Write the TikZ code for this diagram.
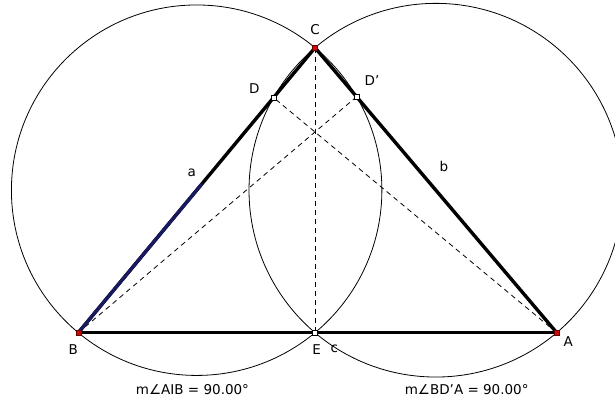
\documentclass[tikz,border=0pt]{standalone}
\usepackage{fontspec}
\setmainfont{DejaVu Sans}
\usetikzlibrary{calc}
\definecolor{navyline}{RGB}{25,25,95}
\definecolor{ptred}{RGB}{200,10,10}
\newcommand{\prm}{\char39}

\begin{document}
\begin{tikzpicture}[x=1pt, y=-1pt,
    side/.style={line width=3.4pt, line cap=round},
    aux/.style={line width=0.8pt, dash pattern=on 5pt off 4pt},
    circ/.style={line width=0.8pt},
    redpt/.style={draw=black!60!red, fill=ptred, minimum size=5pt, inner sep=0pt, line width=0.5pt},
    openpt/.style={draw=black, fill=white, minimum size=5pt, inner sep=0pt, line width=0.6pt},
    lbl/.style={font=\fontsize{13.5}{15}\selectfont, inner sep=0pt}
  ]
    \useasboundingbox (0,0) rectangle (615,411);
    \clip (0,0) rectangle (615,411);
    \coordinate (B) at (78.3,332.7);
    \coordinate (A) at (556.7,332.7);
    \coordinate (C) at (315,47.7);
    \coordinate (E) at (315,332.7);
    \coordinate (D) at ($(B)!(A)!(C)$);
    \coordinate (Dp) at ($(A)!(B)!(C)$);
    % circles on BC and AC
    \draw[circ] let \p1=($(C)-(B)$), \n1={veclen(\x1,\y1)/2} in ($(B)!0.5!(C)$) circle[radius=\n1];
    \draw[circ] let \p1=($(C)-(A)$), \n1={veclen(\x1,\y1)/2} in ($(A)!0.5!(C)$) circle[radius=\n1];
    \draw[aux] (C) -- (E);
    \draw[aux] (A) -- (D);
    \draw[aux] (B) -- (Dp);
    \draw[side] (B) -- (A);
    \draw[side] (A) -- (C);
    \draw[side] (B) -- (C);
    \draw[side, navyline] (B) -- ($(B)!0.52!(C)$);
    \node[redpt] (pB) at (B) {};
    \node[redpt] (pA) at (A) {};
    \node[redpt] (pC) at (C) {};
    \node[openpt] (pE) at (E) {};
    \node[openpt] (pD) at (D) {};
    \node[openpt] (pDp) at (Dp) {};
    \node[lbl] (lC) at (315,30) {C};
    \node[lbl] (lD) at (254.3,88.3) {D};
    \node[lbl] (lDp) at (372,81) {D\prm};
    \node[lbl] (la) at (191.7,173.3) {a};
    \node[lbl] (lb) at (444,166.7) {b};
    \node[lbl] (lB) at (73.3,350) {B};
    \node[lbl] (lE) at (316.7,350) {E};
    \node[lbl] (lc) at (334.3,349.3) {c};
    \node[lbl] (lA) at (568.3,341.7) {A};
    \node[lbl] (mAIB) at (192.5,390) {m∠AIB = 90.00°};
    \node[lbl] (mBDA) at (466.7,390) {m∠BD\prm A = 90.00°};
\end{tikzpicture}
\end{document}
